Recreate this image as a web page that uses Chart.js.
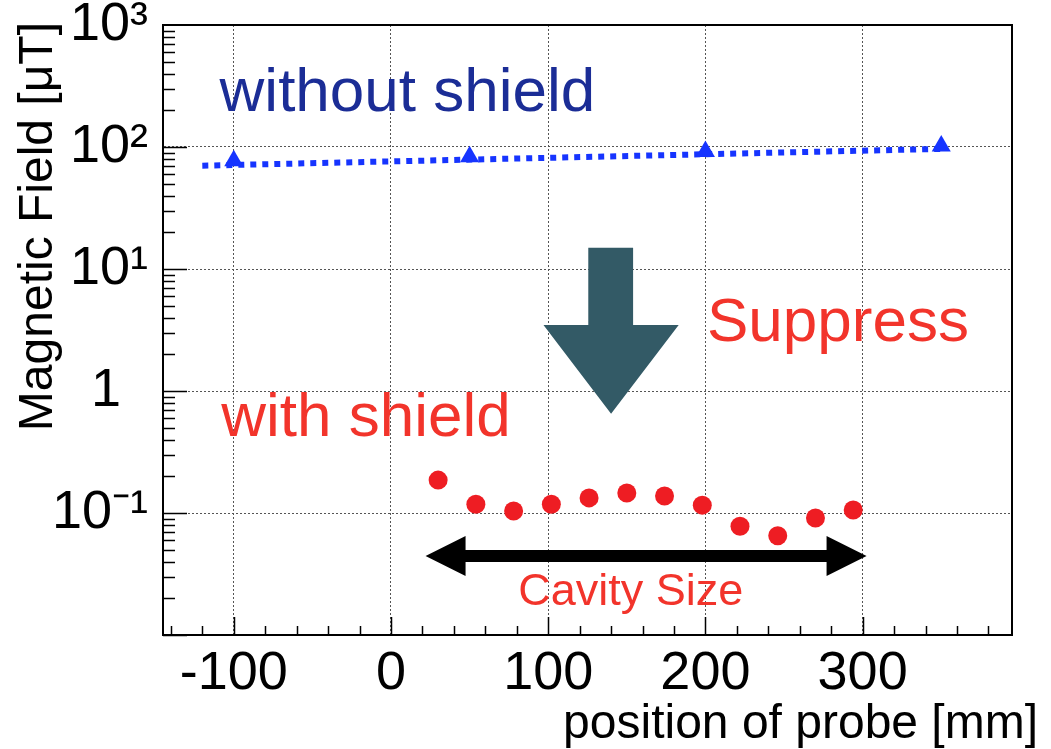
<!DOCTYPE html>
<html>
<head>
<meta charset="utf-8">
<script src="https://cdn.jsdelivr.net/npm/chart.js@4.4.1/dist/chart.umd.min.js"></script>
<style>
  body { margin: 0; background: #fff; }
  #wrap { width: 1051px; height: 749px; }
</style>
</head>
<body>
<div id="wrap"><canvas id="fieldChart" width="1051" height="749"></canvas></div>
<script>
// values
const withoutX = [-100, 50, 200, 350];
const withoutB = [77, 83, 92, 102];          // uT, no shield
const fitX = [-120, 350];
const fitB = [70.3, 96.5];                   // straight fit through the no-shield points
const withX = [30, 54, 78, 102, 126, 150, 174, 198, 222, 246, 270, 294];
const withB = [0.186, 0.118, 0.104, 0.118, 0.133, 0.146, 0.138, 0.116, 0.078, 0.065, 0.091, 0.106];

const xTicks = [-100, 0, 100, 200, 300];
const yTicks = [0.01, 0.1, 1, 10, 100, 1000];
const yTickLabels = ['', '10\u207B\u00B9', '1\u2002', '10\u00B9', '10\u00B2', '10\u00B3'];

const FONT = "'Liberation Sans', Helvetica, Arial, sans-serif";
const BLUE = 'rgb(22, 52, 255)';
const NAVY = '#1b2d96';
const RED = '#ee1d23';
const RED_TEXT = '#f2342b';
const SLATE = '#335a66';

Chart.defaults.font.family = FONT;
Chart.defaults.color = '#000';

const toPts = (xs, ys) => xs.map((x, i) => ({x, y: ys[i]}));

// labels and arrows placed in data units
const notes = [
  {text: 'without shield', x: -109, y: 197, color: NAVY, size: 62},
  {text: 'Suppress', x: 201, y: 2.59, color: RED_TEXT, size: 62},
  {text: 'with shield', x: -108, y: 0.43, color: RED_TEXT, size: 62},
  {text: 'Cavity Size', x: 81, y: 0.0176, color: RED_TEXT, size: 45}
];

const decor = {
  id: 'decor',
  afterDatasetsDraw(chart) {
    const {ctx, scales: {x, y}} = chart;
    ctx.save();

    // big "suppress" arrow
    const sl = x.getPixelForValue(125.5), sr = x.getPixelForValue(154);
    const hl = x.getPixelForValue(97), hr = x.getPixelForValue(183);
    const tx = x.getPixelForValue(140);
    const top = y.getPixelForValue(14.9), neck = y.getPixelForValue(3.47), tip = y.getPixelForValue(0.65);
    ctx.fillStyle = SLATE;
    ctx.beginPath();
    ctx.moveTo(sl, top); ctx.lineTo(sr, top); ctx.lineTo(sr, neck); ctx.lineTo(hr, neck);
    ctx.lineTo(tx, tip); ctx.lineTo(hl, neck); ctx.lineTo(sl, neck);
    ctx.closePath(); ctx.fill();

    // cavity size double arrow
    const ax1 = x.getPixelForValue(22), ax2 = x.getPixelForValue(302.5), ay = y.getPixelForValue(0.0444);
    const head = 40, half = 20, th = 6;
    ctx.fillStyle = '#000';
    ctx.beginPath();
    ctx.moveTo(ax1, ay); ctx.lineTo(ax1 + head, ay - half); ctx.lineTo(ax1 + head, ay - th);
    ctx.lineTo(ax2 - head, ay - th); ctx.lineTo(ax2 - head, ay - half); ctx.lineTo(ax2, ay);
    ctx.lineTo(ax2 - head, ay + half); ctx.lineTo(ax2 - head, ay + th);
    ctx.lineTo(ax1 + head, ay + th); ctx.lineTo(ax1 + head, ay + half);
    ctx.closePath(); ctx.fill();

    ctx.textBaseline = 'alphabetic';
    ctx.textAlign = 'left';
    notes.forEach(n => {
      ctx.font = n.size + 'px ' + FONT;
      ctx.fillStyle = n.color;
      ctx.fillText(n.text, x.getPixelForValue(n.x), y.getPixelForValue(n.y));
    });
    ctx.restore();
  },
  afterDraw(chart) {
    const {ctx, chartArea: a, scales: {x, y}} = chart;
    ctx.save();
    ctx.strokeStyle = '#000';
    ctx.lineWidth = 2;
    ctx.strokeRect(a.left, a.top, a.right - a.left, a.bottom - a.top);

    // ROOT style ticks, pointing inwards
    ctx.lineWidth = 1.5;
    ctx.beginPath();
    for (let d = 0.01; d < 999; d *= 10) {
      for (let k = 1; k <= 9; k++) {
        const py = Math.round(y.getPixelForValue(k * d)) + 0.5;
        ctx.moveTo(a.left, py); ctx.lineTo(a.left + (k === 1 ? 24 : 12), py);
      }
    }
    for (let v = -140; v <= 380; v += 20) {
      const px = Math.round(x.getPixelForValue(v)) + 0.5;
      ctx.moveTo(px, a.bottom); ctx.lineTo(px, a.bottom - (v % 100 === 0 ? 18 : 9));
    }
    ctx.stroke();

    // axis titles, ROOT puts them at the axis end
    ctx.fillStyle = '#000';
    ctx.font = '48px ' + FONT;
    ctx.textAlign = 'right';
    ctx.textBaseline = 'alphabetic';
    ctx.fillText('position of probe [mm]', 1038, 738);
    ctx.translate(52, 22);
    ctx.rotate(-Math.PI / 2);
    ctx.fillText('Magnetic Field [\u03BCT]', 0, 0);
    ctx.restore();
  }
};

const ctx = document.getElementById('fieldChart').getContext('2d');
new Chart(ctx, {
  type: 'scatter',
  data: {
    datasets: [
      {
        label: 'without shield',
        data: toPts(withoutX, withoutB),
        pointStyle: 'triangle',
        pointRadius: 11,
        backgroundColor: BLUE,
        borderWidth: 0,
        order: 0
      },
      {
        label: 'fit',
        data: toPts(fitX, fitB),
        showLine: true,
        pointRadius: 0,
        borderColor: BLUE,
        borderWidth: 6,
        borderDash: [6, 6],
        order: 1
      },
      {
        label: 'with shield',
        data: toPts(withX, withB),
        pointRadius: 9.5,
        backgroundColor: RED,
        borderWidth: 0,
        order: 0
      }
    ]
  },
  options: {
    responsive: false,
    animation: false,
    layout: {padding: {top: 25, right: 39, left: 0, bottom: 0}},
    plugins: {legend: {display: false}, tooltip: {enabled: false}},
    scales: {
      x: {
        type: 'linear',
        min: -145,
        max: 395,
        afterBuildTicks: s => { s.ticks = xTicks.map(v => ({value: v})); },
        afterFit: s => { s.height = 114; s.paddingLeft = 0; s.paddingRight = 0; },
        ticks: {font: {size: 54}, padding: 7, maxRotation: 0},
        grid: {color: '#555', lineWidth: 1, drawTicks: false},
        border: {display: true, color: '#000', width: 2, dash: [2, 2]}
      },
      y: {
        type: 'logarithmic',
        min: 0.01,
        max: 1000,
        afterBuildTicks: s => { s.ticks = yTicks.map(v => ({value: v})); },
        afterFit: s => { s.width = 163; s.paddingTop = 0; s.paddingBottom = 0; },
        ticks: {
          font: {size: 54},
          padding: 15,
          callback: (v, i) => yTickLabels[i]
        },
        grid: {color: '#555', lineWidth: 1, drawTicks: false},
        border: {display: true, color: '#000', width: 2, dash: [2, 2]}
      }
    }
  },
  plugins: [decor]
});
</script>
</body>
</html>
